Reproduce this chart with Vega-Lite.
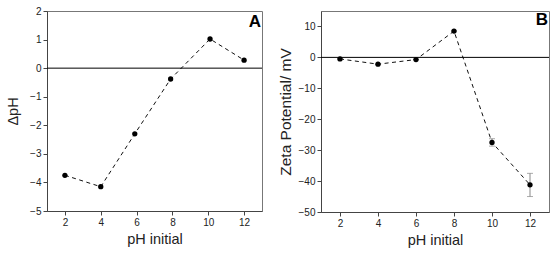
{
  "$schema": "https://vega.github.io/schema/vega-lite/v6.json",
  "background": "white",
  "padding": {"left": 5, "top": 5, "right": 5, "bottom": 5},
  "spacing": 14,
  "config": {
    "font": "Liberation Sans",
    "view": {"stroke": "#777", "strokeWidth": 1},
    "axis": {
      "domainColor": "#444", "tickColor": "#444", "tickSize": 4,
      "labelFont": "Liberation Sans", "labelFontSize": 10, "labelColor": "#222",
      "titleFont": "Liberation Sans", "titleFontSize": 14.5, "titleFontWeight": "normal", "titleColor": "#222",
      "grid": false, "labelPadding": 2
    }
  },
  "datasets": {
    "a": [
      {"ph": 2, "v": -3.75},
      {"ph": 4, "v": -4.15},
      {"ph": 5.9, "v": -2.3},
      {"ph": 7.9, "v": -0.38},
      {"ph": 10.1, "v": 1.02},
      {"ph": 12, "v": 0.28}
    ],
    "b": [
      {"ph": 2, "v": -0.5, "lo": -0.5, "hi": -0.5},
      {"ph": 4, "v": -2.2, "lo": -2.2, "hi": -2.2},
      {"ph": 6, "v": -0.7, "lo": -0.7, "hi": -0.7},
      {"ph": 8, "v": 8.5, "lo": 8.5, "hi": 8.5},
      {"ph": 10, "v": -27.5, "lo": -28.7, "hi": -26.3},
      {"ph": 12, "v": -41.2, "lo": -45, "hi": -37.5}
    ],
    "la": [{"t": "A", "x": 12.95, "y": 1.45}],
    "lb": [{"t": "B", "x": 12.95, "y": 10.6}]
  },
  "hconcat": [
    {
      "width": 215, "height": 200,
      "resolve": {"scale": {"y": "independent"}},
      "layer": [
        {
          "layer": [
            {
              "data": {"name": "a"},
              "mark": {"type": "line", "color": "#111", "strokeWidth": 1, "strokeDash": [4, 3.5]},
              "encoding": {
                "x": {"field": "ph", "type": "quantitative", "scale": {"domain": [1, 13], "nice": false},
                      "axis": {"values": [2, 4, 6, 8, 10, 12], "title": "pH initial", "titlePadding": 5}},
                "y": {"field": "v", "type": "quantitative", "scale": {"domain": [-5, 2], "nice": false},
                      "axis": {"values": [-5, -3, -1, 1], "orient": "left", "title": "ΔpH", "titlePadding": 9}}
              }
            },
            {
              "data": {"name": "a"},
              "mark": {"type": "point", "filled": true, "color": "#000", "size": 28, "opacity": 1},
              "encoding": {
                "x": {"field": "ph", "type": "quantitative"},
                "y": {"field": "v", "type": "quantitative"}
              }
            },
            {
              "data": {"name": "la"},
              "mark": {"type": "text", "fontSize": 17, "fontWeight": "bold", "align": "right", "baseline": "alphabetic", "color": "#000"},
              "encoding": {
                "x": {"field": "x", "type": "quantitative"},
                "y": {"field": "y", "type": "quantitative"},
                "text": {"field": "t"}
              }
            }
          ]
        },
        {
          "data": {"values": [{"z": 0}]},
          "mark": {"type": "rule", "color": "#000", "strokeWidth": 1},
          "encoding": {"y": {"field": "z", "type": "quantitative", "scale": {"domain": [-5, 2], "nice": false},
                             "axis": {"values": [-4, -2, 0, 2], "orient": "left", "title": null, "domain": false}}}
        }
      ]
    },
    {
      "width": 228, "height": 201,
      "resolve": {"scale": {"y": "independent"}},
      "layer": [
        {
          "layer": [
            {
              "data": {"name": "b"},
              "mark": {"type": "line", "color": "#111", "strokeWidth": 1, "strokeDash": [4, 3.5]},
              "encoding": {
                "x": {"field": "ph", "type": "quantitative", "scale": {"domain": [1, 13], "nice": false},
                      "axis": {"values": [2, 4, 6, 8, 10, 12], "title": "pH initial", "titlePadding": 5}},
                "y": {"field": "v", "type": "quantitative", "scale": {"domain": [-50, 15], "nice": false},
                      "axis": {"values": [-50, -30, -10, 10], "orient": "left",
                               "title": "Zeta Potential/ mV", "titleFontSize": 15.5, "titlePadding": 5}}
              }
            },
            {
              "data": {"name": "b"},
              "mark": {"type": "errorbar", "ticks": {"size": 6, "color": "#888"}, "rule": {"color": "#888"}},
              "encoding": {
                "x": {"field": "ph", "type": "quantitative"},
                "y": {"field": "lo", "type": "quantitative", "title": "Zeta Potential/ mV"},
                "y2": {"field": "hi"}
              }
            },
            {
              "data": {"name": "b"},
              "mark": {"type": "point", "filled": true, "color": "#000", "size": 28, "opacity": 1},
              "encoding": {
                "x": {"field": "ph", "type": "quantitative"},
                "y": {"field": "v", "type": "quantitative"}
              }
            },
            {
              "data": {"name": "lb"},
              "mark": {"type": "text", "fontSize": 17, "fontWeight": "bold", "align": "right", "baseline": "alphabetic", "color": "#000"},
              "encoding": {
                "x": {"field": "x", "type": "quantitative"},
                "y": {"field": "y", "type": "quantitative"},
                "text": {"field": "t"}
              }
            }
          ]
        },
        {
          "data": {"values": [{"z": 0}]},
          "mark": {"type": "rule", "color": "#000", "strokeWidth": 1},
          "encoding": {"y": {"field": "z", "type": "quantitative", "scale": {"domain": [-50, 15], "nice": false},
                             "axis": {"values": [-40, -20, 0], "orient": "left", "title": null, "domain": false}}}
        }
      ]
    }
  ]
}
